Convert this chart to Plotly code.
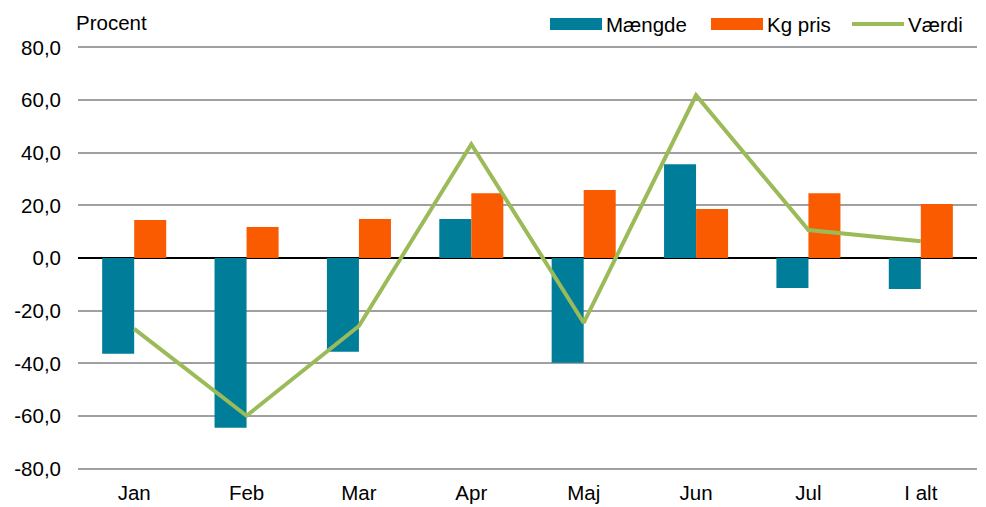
import plotly.graph_objects as go

categories = ["Jan", "Feb", "Mar", "Apr", "Maj", "Jun", "Jul", "I alt"]
maengde = [-36.4, -64.5, -35.6, 14.8, -39.8, 35.6, -11.4, -11.8]
kg_pris = [14.4, 11.8, 14.8, 24.6, 25.8, 18.6, 24.6, 20.5]
vaerdi = [-26.9, -59.9, -25.8, 43.2, -24.6, 61.8, 10.6, 6.4]
tick_vals = [-80, -60, -40, -20, 0, 20, 40, 60, 80]
tick_text = ["-80,0", "-60,0", "-40,0", "-20,0", "0,0", "20,0", "40,0", "60,0", "80,0"]
series_names = ["Mængde", "Kg pris", "Værdi"]
colors = ["#007E99", "#FA5A00", "#9BBB59"]

font = dict(family="Liberation Sans, Arial, sans-serif", size=20.5, color="#000000")

fig = go.Figure()
fig.add_trace(go.Bar(x=categories, y=maengde, name=series_names[0],
                     marker=dict(color=colors[0], line=dict(width=0))))
fig.add_trace(go.Bar(x=categories, y=kg_pris, name=series_names[1],
                     marker=dict(color=colors[1], line=dict(width=0))))
fig.add_trace(go.Scatter(x=categories, y=vaerdi, name=series_names[2], mode="lines",
                         line=dict(color=colors[2], width=4)))

# The page body has an 8px margin, so figure px = page px - 8
OFF = 8
W, H = 986 - OFF, 507 - OFF
ml, mt = 78 - OFF, 46 - OFF
mr = W - (977 - OFF)
mb = H - (470 - OFF)
pw, ph = W - ml - mr, H - mt - mb

def pxx(page_x):
    return (page_x - OFF - ml) / pw

def pxy(page_y):
    return (H - mb - (page_y - OFF)) / ph

legend_items = [(550, series_names[0], colors[0], "rect"),
                (711, series_names[1], colors[1], "rect"),
                (852, series_names[2], colors[2], "line")]
ly = 24
shapes, annotations = [], []
for x0, name, col, kind in legend_items:
    if kind == "rect":
        shapes.append(dict(type="rect", xref="paper", yref="paper", layer="above",
                           x0=pxx(x0), x1=pxx(x0 + 52), y0=pxy(ly + 6), y1=pxy(ly - 6),
                           fillcolor=col, line=dict(width=0)))
    else:
        shapes.append(dict(type="line", xref="paper", yref="paper", layer="above",
                           x0=pxx(x0), x1=pxx(x0 + 52), y0=pxy(ly), y1=pxy(ly),
                           line=dict(color=col, width=4)))
    annotations.append(dict(text=name, xref="paper", yref="paper", x=pxx(x0 + 54), y=pxy(ly),
                            xanchor="left", yanchor="middle", showarrow=False, font=font))

annotations.append(dict(text="Procent", xref="paper", yref="paper",
                        x=pxx(74), y=pxy(22),
                        xanchor="left", yanchor="middle", showarrow=False, font=font))

fig.update_layout(
    width=W, height=H,
    margin=dict(l=ml, r=mr, t=mt, b=mb, autoexpand=False),
    paper_bgcolor="white", plot_bgcolor="white",
    font=font,
    barmode="group", bargap=0.43, bargroupgap=0,
    showlegend=False,
    xaxis=dict(showgrid=False, ticks="", showline=False, tickfont=font,
               automargin=False, ticklabelstandoff=8),
    yaxis=dict(range=[-80.5, 80.5], tickvals=tick_vals, ticktext=tick_text,
               showgrid=True, gridcolor="#A0A0A0", gridwidth=2,
               zeroline=True, zerolinecolor="#000000", zerolinewidth=2,
               ticks="", showline=False, tickfont=font,
               automargin=False, ticklabelstandoff=16),
    shapes=shapes,
    annotations=annotations,
)

fig.write_html("out.html")
